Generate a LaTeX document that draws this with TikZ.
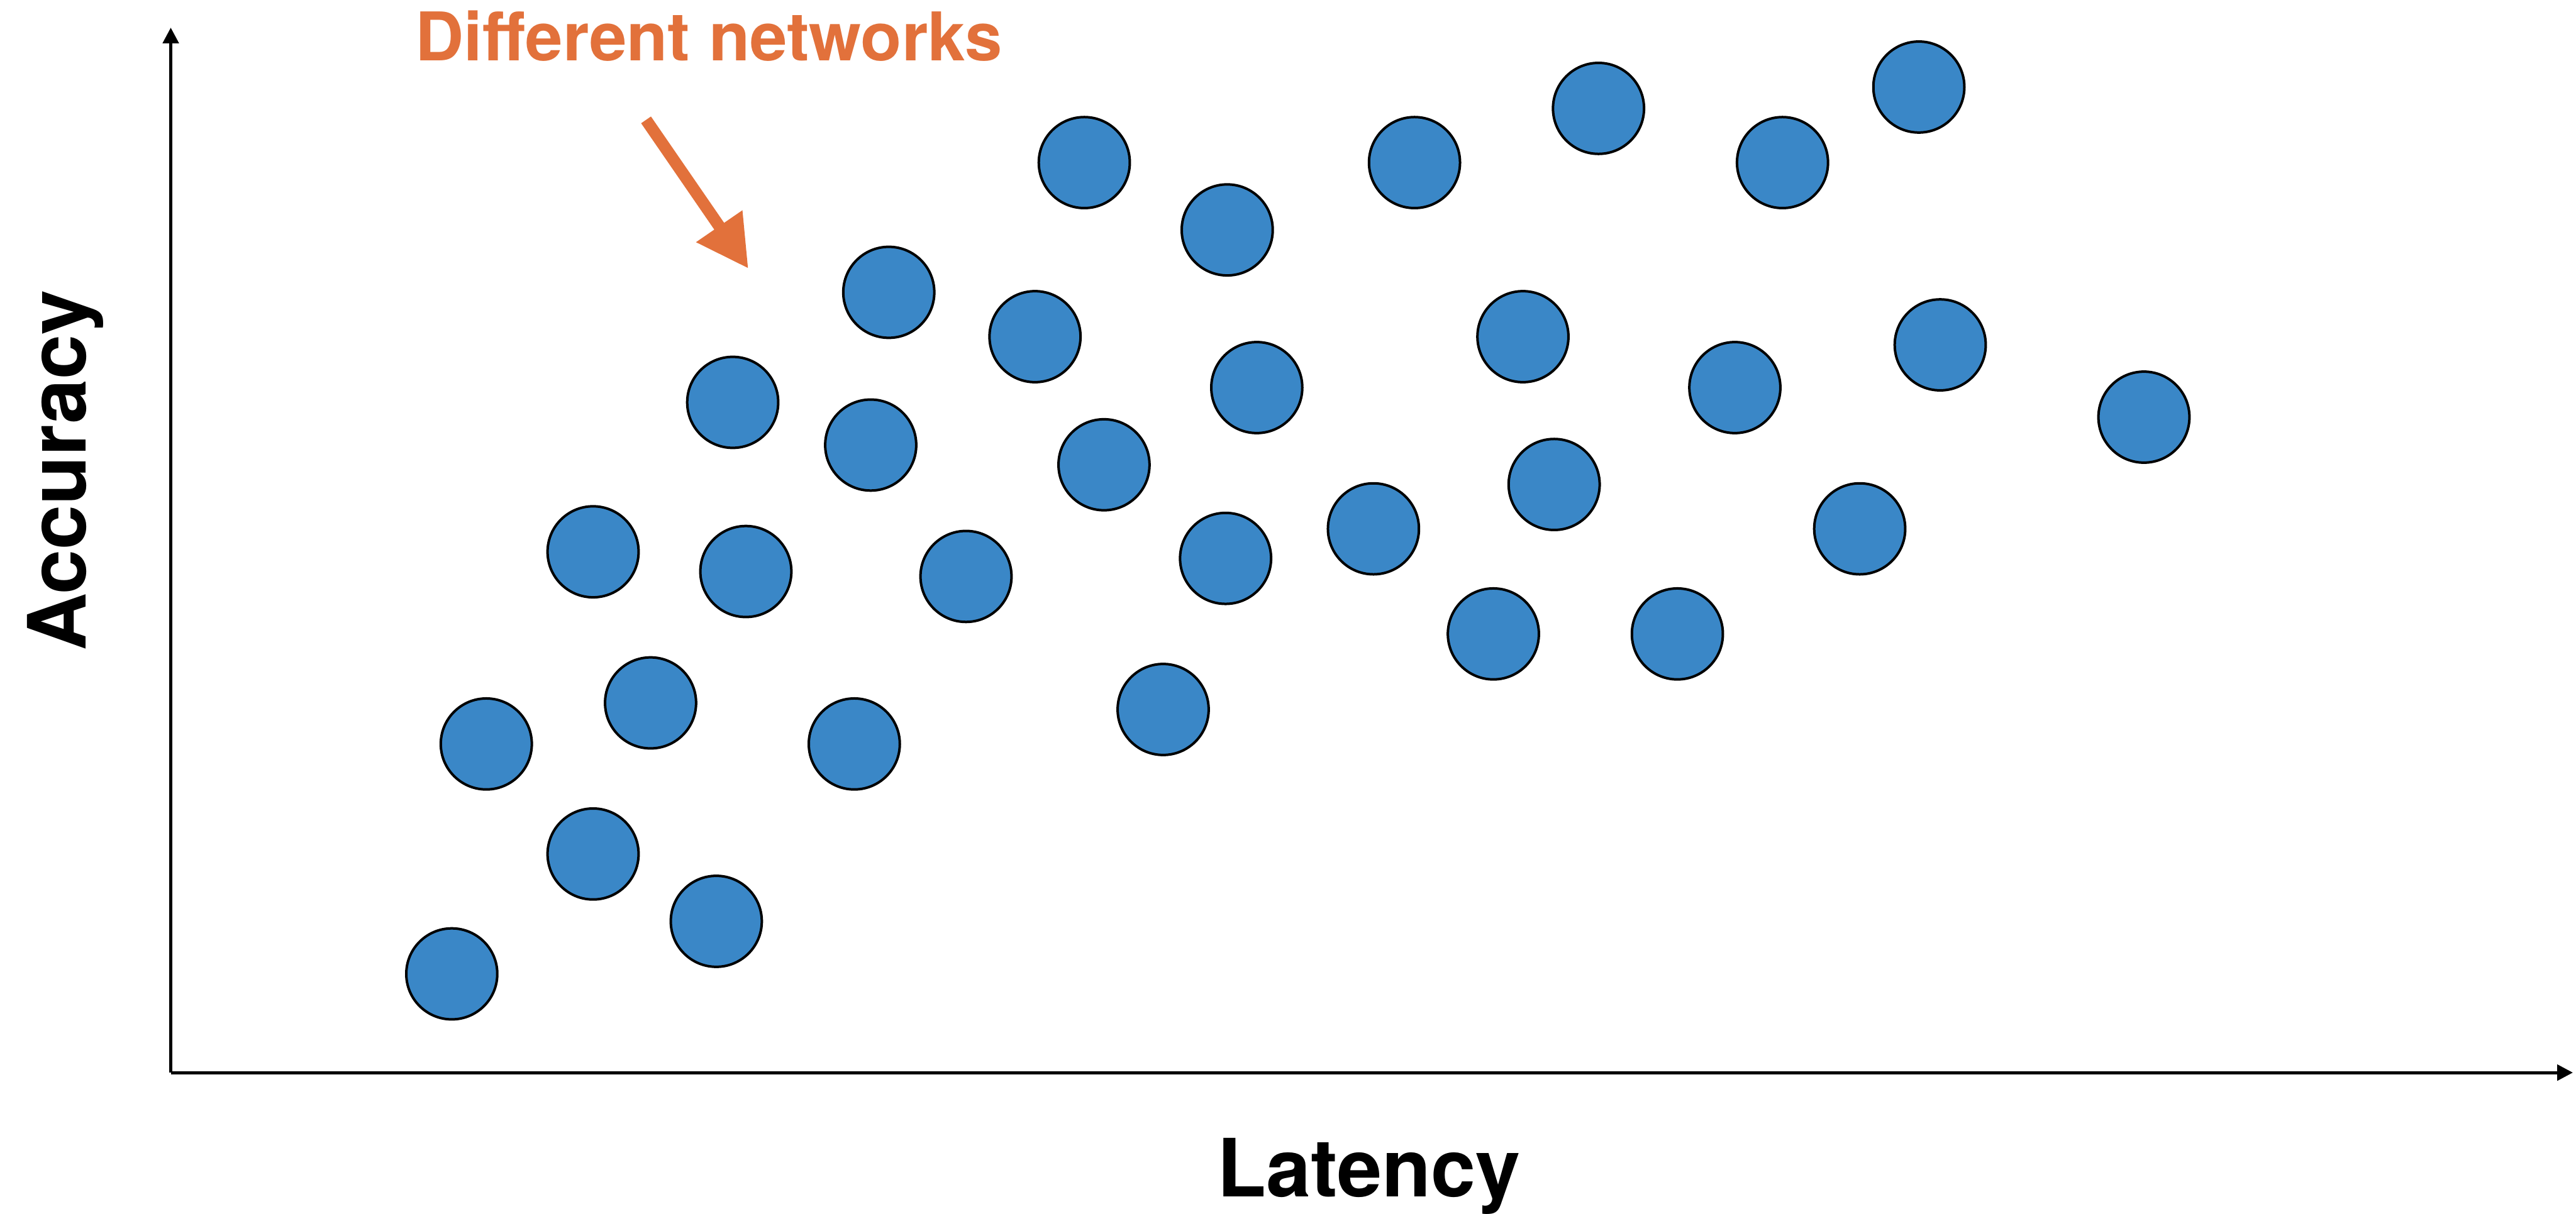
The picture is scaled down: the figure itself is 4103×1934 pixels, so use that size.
\documentclass[tikz,border=0pt]{standalone}
\usepackage{fontspec}
\setmainfont{TeX Gyre Heros}
\usetikzlibrary{arrows.meta}
\definecolor{netblue}{RGB}{58,135,199}
\definecolor{noteorange}{RGB}{226,113,59}
\begin{document}
\begin{tikzpicture}[x=1pt,y=-1pt,
  net/.style={circle,draw=black,line width=4pt,fill=netblue,inner sep=0pt,minimum size=145pt},
  axis/.style={line width=5pt,-{Triangle[length=25pt,width=25pt]}},
  pointer/.style={line width=19pt,draw=noteorange,-{Triangle[length=82pt,width=84pt]}},
  axislabel/.style={font=\fontsize{128pt}{150pt}\selectfont\bfseries,inner sep=0pt,anchor=base}]
\useasboundingbox (0,0) rectangle (4103,1934);

% axes
\coordinate (O) at (272,1709);
\coordinate (ytop) at (272,44);
\coordinate (xend) at (4098,1709);
\draw[axis] (O) -- (ytop);
\draw[axis] (O) -- (xend);

\node[axislabel] (lat) at (2180,1907) {Latency};
\node[axislabel,rotate=90] (acc) at (137,750) {Accuracy};

% annotation
\node[font=\fontsize{107pt}{128pt}\selectfont\bfseries,text=noteorange,inner sep=0pt,anchor=base] (note) at (1129,97) {Different networks};
\coordinate (ptrS) at (1029,191);
\coordinate (ptrE) at (1192,428);
\draw[pointer] (ptrS) -- (ptrE);

% one dot per network
\foreach \x/\y [count=\i] in {
  275/593, 361/520, 436/561, 296/453, 396/428, 520/453, 361/336, 454/348,
  588/351, 446/245, 530/271, 541/178, 630/205, 672/283, 660/99, 747/140,
  765/236, 746/340, 708/432, 836/322, 861/99, 927/205, 946/295, 909/386,
  973/66, 1085/99, 1056/236, 1021/386, 1168/53, 1181/210, 1132/322, 1305/254}
  \node[net] (n\i) at ({\x*2.6167},{\y*2.6167}) {};
\end{tikzpicture}
\end{document}
